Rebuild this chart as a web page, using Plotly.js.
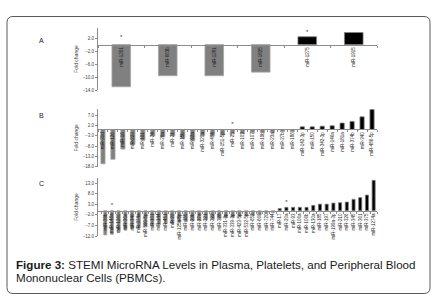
<!DOCTYPE html>
<html><head><meta charset="utf-8">
<script src="https://cdn.plot.ly/plotly-3.0.1.min.js"></script>
<style>html,body{margin:0;padding:0;background:#fff;}#chart{width:437px;height:302px;}</style>
</head><body><div id="chart"></div>
<script>
// ---- data ----
const plasmaLabels = ['miR-1291','miR-663b','miR-1281','miR-1825','miR-1275','miR-1915'];
const plasmaValues = [-13.0, -9.6, -9.6, -8.5, 2.4, 3.7];
const plasmaStars = [0, 4];
const plasmaStarValues = [2.3, 3.6];
const plasmaTicks = [-14, -10, -6, -2, 2];

const plateletLabels = ['miR-30d','miR-126','miR-16','miR-223','miR-191','miR-24','miR-26a','miR-21','miR-15b','miR-92a','miR-320a','miR-484','miR-151-5p','miR-25','miR-103','miR-107','miR-19b','miR-23a','miR-27b','miR-186','miR-142-3p','miR-150','miR-342-3p','miR-146a','miR-181a','miR-374b','miR-340','miR-486-5p'];
const plateletValues = [-16.6, -14.4, -9.5, -7.3, -5.2, -3.0, -3.5, -3.0, -4.3, -5.5, -2.8, -2.8, -2.5, -2.0, -2.0, -1.6, -1.5, -1.5, -1.1, -1.1, 1.3, 1.3, 1.6, 1.8, 3.1, 3.9, 6.1, 9.6];
const plateletStars = [13];
const plateletStarValues = [2.6];
const plateletTicks = [-18, -13, -8, -3, 2, 7];

const pbmcLabels = ['miR-29b','miR-148a','miR-1260','miR-30e','miR-340','miR-374a','miR-590-5p','miR-101','miR-144','miR-451','miR-22','miR-125a-5p','miR-155','miR-23b','miR-27a','miR-221','miR-222','miR-328','miR-331-3p','miR-339-3p','miR-423-5p','miR-532-5p','miR-652','miR-660','miR-720','miR-744','miR-17','miR-20a','miR-93','miR-106a','miR-106b','miR-130a','miR-185','miR-197','miR-199a-3p','miR-210','miR-326','miR-345','miR-361','miR-375','miR-1274a'];
const pbmcValues = [-11.5, -11.2, -9.8, -9.0, -8.6, -8.0, -7.5, -7.1, -6.6, -6.2, -5.9, -5.5, -5.2, -4.9, -4.6, -4.3, -4.0, -3.7, -3.4, -3.1, -2.8, -2.5, -2.2, -1.8, -1.4, -1.0, 1.0, 1.6, 1.6, 1.6, 1.6, 2.5, 3.1, 3.1, 3.6, 3.8, 4.1, 5.4, 6.2, 7.4, 14.4];
const pbmcStars = [1, 27];
const pbmcStarValues = [2.6, 4.0];
const pbmcTicks = [-12, -7, -2, 3, 8, 13];

const panelLetters = ['A','B','C'];
const yTitle = 'Fold change';
const captionLine1Bold = 'Figure 3:';
const captionLine1 = ' STEMI MicroRNA Levels in Plasma, Platelets, and Peripheral Blood';
const captionLine2 = 'Mononuclear Cells (PBMCs).';

// ---- layout geometry (pixels) ----
const W = 437, H = 302;
const fx = p => p / W;
const fy = p => 1 - p / H;
const xDom = [fx(98), fx(377)];
const panels = [
  {labels: plasmaLabels, values: plasmaValues, stars: plasmaStars, starV: plasmaStarValues, ticks: plasmaTicks, range: [-14, 5.1], top: 28, bottom: 90, barW: 0.4, letterY: 40},
  {labels: plateletLabels, values: plateletValues, stars: plateletStars, starV: plateletStarValues, ticks: plateletTicks, range: [-18, 9.9], top: 109, bottom: 166.7, barW: 0.42, letterY: 115},
  {labels: pbmcLabels, values: pbmcValues, stars: pbmcStars, starV: pbmcStarValues, ticks: pbmcTicks, range: [-12, 15.5], top: 178, bottom: 236, barW: 0.46, letterY: 183}
];

const traces = [];
const layout = {
  width: W, height: H,
  margin: {l: 0, r: 0, t: 0, b: 0},
  paper_bgcolor: '#ffffff', plot_bgcolor: 'rgba(0,0,0,0)',
  showlegend: false,
  font: {family: 'Liberation Sans, Arial, sans-serif', color: '#404040'},
  annotations: [], shapes: []
};

panels.forEach((p, i) => {
  const n = i + 1;
  const xa = n === 1 ? 'x' : 'x' + n;
  const ya = n === 1 ? 'y' : 'y' + n;
  traces.push({
    type: 'bar', x: p.labels, y: p.values, xaxis: xa, yaxis: ya,
    width: p.barW,
    marker: {
      color: p.values.map(v => v < 0 ? '#808080' : '#000000'),
      line: {color: p.values.map(v => v < 0 ? '#a6a6a6' : '#7f7f7f'), width: 0.8}
    },
    hoverinfo: 'none'
  });
  traces.push({
    type: 'scatter', mode: 'text', xaxis: xa, yaxis: ya,
    x: p.stars.map(k => p.labels[k]), y: p.starV,
    text: p.stars.map(() => '*'), textfont: {size: 6, color: '#333'},
    hoverinfo: 'none'
  });
  const dTop = fy(p.top), dBot = fy(p.bottom);
  const zeroFrac = dBot + (0 - p.range[0]) / (p.range[1] - p.range[0]) * (dTop - dBot);
  layout['xaxis' + (n === 1 ? '' : n)] = {
    domain: xDom, anchor: 'free', position: zeroFrac,
    type: 'category', showline: true, linecolor: '#8c8c8c', linewidth: 1,
    ticks: 'outside', tickson: 'boundaries', ticklen: 2, tickcolor: '#8c8c8c',
    tickangle: -90, tickfont: {size: 4.5, color: '#1a1a1a'},
    showgrid: false, zeroline: false, fixedrange: true
  };
  layout[(n === 1 ? 'yaxis' : 'yaxis' + n)] = {
    domain: [dBot, dTop], anchor: xa, range: p.range,
    tickvals: p.ticks, tickformat: '.1f',
    showline: true, linecolor: '#8c8c8c', linewidth: 1,
    ticks: 'outside', ticklen: 2, tickcolor: '#8c8c8c',
    tickfont: {size: 4.5, color: '#404040'},
    showgrid: false, zeroline: false,
    title: {text: yTitle, font: {size: 5, color: '#404040'}, standoff: 3}
  };
  layout.annotations.push({
    xref: 'paper', yref: 'paper', x: fx(41), y: fy(p.letterY),
    text: panelLetters[i], showarrow: false, xanchor: 'center', yanchor: 'middle',
    font: {size: 7, color: '#222'}
  });
});

const capFont = {size: 11.6, color: '#1a1a1a', family: 'Liberation Sans, Arial, sans-serif'};
layout.annotations.push({
  xref: 'paper', yref: 'paper', x: fx(14.5), y: fy(264),
  xanchor: 'left', yanchor: 'middle', align: 'left', showarrow: false, borderpad: 0,
  text: '<b>' + captionLine1Bold + '</b>' + captionLine1, font: capFont
});
layout.annotations.push({
  xref: 'paper', yref: 'paper', x: fx(14.5), y: fy(277.5),
  xanchor: 'left', yanchor: 'middle', align: 'left', showarrow: false, borderpad: 0,
  text: captionLine2, font: capFont
});

// rounded border around the figure
const L = fx(7), R = fx(430), T = fy(16.5), B = fy(293.5);
const rx = fx(6), ry = 6 / H;
layout.shapes.push({
  type: 'path', xref: 'paper', yref: 'paper',
  path: `M ${L + rx} ${T} L ${R - rx} ${T} Q ${R} ${T} ${R} ${T - ry} L ${R} ${B + ry} Q ${R} ${B} ${R - rx} ${B} L ${L + rx} ${B} Q ${L} ${B} ${L} ${B + ry} L ${L} ${T - ry} Q ${L} ${T} ${L + rx} ${T} Z`,
  line: {color: '#5a5a5a', width: 1}, fillcolor: 'rgba(0,0,0,0)'
});

Plotly.newPlot('chart', traces, layout, {staticPlot: true, displayModeBar: false});
</script>
</body></html>
